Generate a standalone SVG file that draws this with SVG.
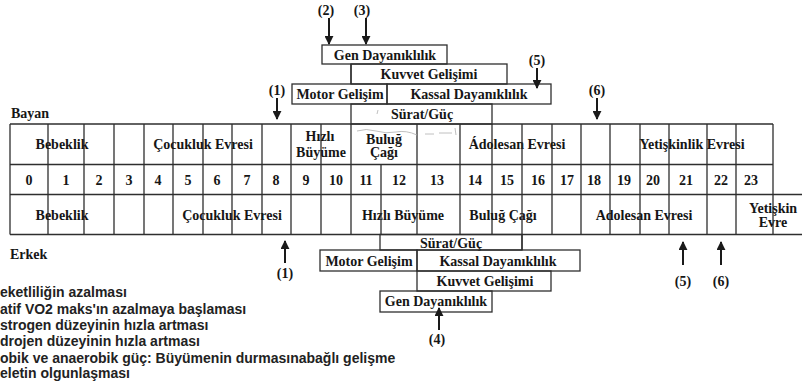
<svg xmlns="http://www.w3.org/2000/svg" width="802" height="381" viewBox="0 0 802 381">
  <defs>
    <style>
      .t { font-family: "Liberation Serif", "Times New Roman", serif; font-weight: bold; font-size: 14px; fill: #161616; text-anchor: middle; }
      .tl { font-family: "Liberation Serif", "Times New Roman", serif; font-weight: bold; font-size: 14px; fill: #161616; }
      .lg { font-family: "Liberation Sans", Arial, sans-serif; font-weight: bold; font-size: 14px; fill: #222222; }
      .box { fill: none; stroke: #2e2e2e; stroke-width: 1.3; }
      .grid { fill: none; stroke: #2e2e2e; stroke-width: 1.3; }
      .arr { stroke: #1a1a1a; stroke-width: 2; fill: none; }
      .mark { fill: none; stroke: #b0b0b0; stroke-width: 0.8; }
    </style>
    <marker id="head" viewBox="0 0 10 10" refX="9" refY="5" markerWidth="4.5" markerHeight="4.5" orient="auto" markerUnits="strokeWidth">
      <path d="M0,0 L10,5 L0,10 z" fill="#1a1a1a"/>
    </marker>
  </defs>
  <rect width="802" height="381" fill="#ffffff"/>

  <!-- side labels -->
  <text class="tl" x="11" y="118">Bayan</text>
  <text class="tl" x="10" y="259">Erkek</text>

  <!-- age table -->
  <g id="age-table">
    <g class="grid">
      <line x1="10" y1="124" x2="773" y2="124"/>
      <line x1="10" y1="164.5" x2="773" y2="164.5"/>
      <line x1="10" y1="194.5" x2="802" y2="194.5"/>
      <line x1="10" y1="234.5" x2="802" y2="234.5"/>
      <path d="M10,124V234.5 M48,124V234.5 M84,124V234.5 M114,124V234.5 M144,124V234.5 M173,124V234.5 M203,124V234.5 M232,124V234.5 M262,124V234.5 M291,124V234.5 M321,124V234.5 M351,124V234.5 M417,124V234.5 M460,124V234.5 M492,124V234.5 M552,124V234.5 M581,124V234.5 M610,124V234.5 M640,124V234.5 M669,124V234.5 M707,124V234.5 M736,124V234.5 M773,124V234.5"/>
    </g>
    <!-- Bayan phases -->
    <text class="t" x="62" y="149">Bebeklik</text>
    <text class="t" x="203" y="149">Çocukluk Evresi</text>
    <text class="t" x="320" y="140.5">Hızlı</text>
    <text class="t" x="321" y="156.5">Büyüme</text>
    <text class="t" x="384" y="143.5">Buluğ</text>
    <text class="t" x="384" y="157">Çağı</text>
    <text class="t" x="517" y="149">Ádolesan Evresi</text>
    <text class="t" x="692" y="149">Yetişkinlik Evresi</text>
    <!-- ages -->
    <g class="t">
      <text x="29" y="184.5">0</text>
      <text x="66" y="184.5">1</text>
      <text x="99" y="184.5">2</text>
      <text x="129" y="184.5">3</text>
      <text x="158" y="184.5">4</text>
      <text x="188" y="184.5">5</text>
      <text x="217" y="184.5">6</text>
      <text x="247" y="184.5">7</text>
      <text x="276" y="184.5">8</text>
      <text x="306" y="184.5">9</text>
      <text x="336" y="184.5">10</text>
      <text x="366" y="184.5">11</text>
      <text x="399" y="184.5">12</text>
      <text x="437" y="184.5">13</text>
      <text x="475" y="184.5">14</text>
      <text x="507" y="184.5">15</text>
      <text x="538" y="184.5">16</text>
      <text x="567" y="184.5">17</text>
      <text x="594" y="184.5">18</text>
      <text x="624" y="184.5">19</text>
      <text x="653" y="184.5">20</text>
      <text x="686" y="184.5">21</text>
      <text x="721" y="184.5">22</text>
      <text x="751" y="184.5">23</text>
    </g>
    <!-- Erkek phases -->
    <text class="t" x="62" y="219.5">Bebeklik</text>
    <text class="t" x="232" y="219.5">Çocukluk Evresi</text>
    <text class="t" x="403" y="219.5">Hızlı Büyüme</text>
    <text class="t" x="503" y="219.5">Buluğ Çağı</text>
    <text class="t" x="644" y="219.5">Adolesan Evresi</text>
    <text class="t" x="773" y="213">Yetişkin</text>
    <text class="t" x="773" y="227">Evre</text>
    <!-- pencil marks -->
    <path class="mark" d="M357,131 q9,-3 19,0 t20,1 t21,3 M425,134 h9 M439,133 h13 M455,128 l1,7 M378,110 l-1,4"/>
  </g>

  <!-- Bayan capacities -->
  <g id="bayan-gen">
    <rect class="box" x="322" y="45" width="125" height="19"/>
    <text class="t" x="385" y="60">Gen Dayanıklılık</text>
  </g>
  <g id="bayan-kuvvet">
    <rect class="box" x="351" y="64" width="156" height="20"/>
    <text class="t" x="429" y="79">Kuvvet Gelişimi</text>
  </g>
  <g id="bayan-motor">
    <rect class="box" x="292" y="84" width="95" height="20"/>
    <text class="t" x="340" y="99">Motor Gelişim</text>
  </g>
  <g id="bayan-kassal">
    <rect class="box" x="387" y="84" width="164" height="20"/>
    <text class="t" x="469" y="99">Kassal Dayanıklılık</text>
  </g>
  <g id="bayan-surat">
    <rect class="box" x="351" y="104" width="141" height="20"/>
    <text class="t" x="422" y="119">Sürat/Güç</text>
  </g>

  <!-- Erkek capacities -->
  <g id="erkek-surat">
    <rect class="box" x="380" y="234.5" width="142" height="15.5"/>
    <text class="t" x="451" y="247.5">Sürat/Güç</text>
  </g>
  <g id="erkek-motor">
    <rect class="box" x="320" y="250" width="97" height="21"/>
    <text class="t" x="369" y="265.5">Motor Gelişim</text>
  </g>
  <g id="erkek-kassal">
    <rect class="box" x="417" y="250" width="163" height="21"/>
    <text class="t" x="498" y="265.5">Kassal Dayanıklılık</text>
  </g>
  <g id="erkek-kuvvet">
    <rect class="box" x="417" y="271" width="134" height="20"/>
    <text class="t" x="485" y="285.5">Kuvvet Gelişimi</text>
  </g>
  <g id="erkek-gen">
    <rect class="box" x="380" y="291" width="112" height="21"/>
    <text class="t" x="436" y="306">Gen Dayanıklılık</text>
  </g>

  <!-- connectors: frame lines and numbered arrows -->
  <g id="connectors">
    <g class="grid">
      <line x1="351" y1="64" x2="351" y2="84"/>
      <line x1="381" y1="164.5" x2="381" y2="234.5"/>
      <line x1="522" y1="124" x2="522" y2="250"/>
    </g>
    <g class="arr" marker-end="url(#head)">
      <line x1="329" y1="18" x2="329" y2="44"/>
      <line x1="366" y1="18" x2="366" y2="44"/>
      <line x1="537" y1="68" x2="537" y2="88"/>
      <line x1="277" y1="98" x2="277" y2="119"/>
      <line x1="597" y1="98" x2="597" y2="119"/>
      <line x1="285" y1="263" x2="285" y2="241"/>
      <line x1="683" y1="265" x2="683" y2="242"/>
      <line x1="721" y1="265" x2="721" y2="242"/>
      <line x1="439" y1="330" x2="439" y2="308"/>
    </g>
    <g class="t">
      <text x="326" y="15">(2)</text>
      <text x="362" y="15">(3)</text>
      <text x="537" y="65">(5)</text>
      <text x="277" y="95">(1)</text>
      <text x="597" y="95">(6)</text>
      <text x="285" y="278">(1)</text>
      <text x="683" y="286">(5)</text>
      <text x="721" y="286">(6)</text>
      <text x="437" y="344">(4)</text>
    </g>
  </g>

  <!-- legend -->
  <g id="legend" class="lg">
    <text x="0" y="297">eketliliğin azalması</text>
    <text x="0" y="313.5">atif VO2 maks'ın azalmaya başlaması</text>
    <text x="0" y="330">strogen düzeyinin hızla artması</text>
    <text x="0" y="346">drojen düzeyinin hızla artması</text>
    <text x="0" y="362.5">obik ve anaerobik güç: Büyümenin durmasınabağlı gelişme</text>
    <text x="0" y="378">eletin olgunlaşması</text>
  </g>
</svg>
